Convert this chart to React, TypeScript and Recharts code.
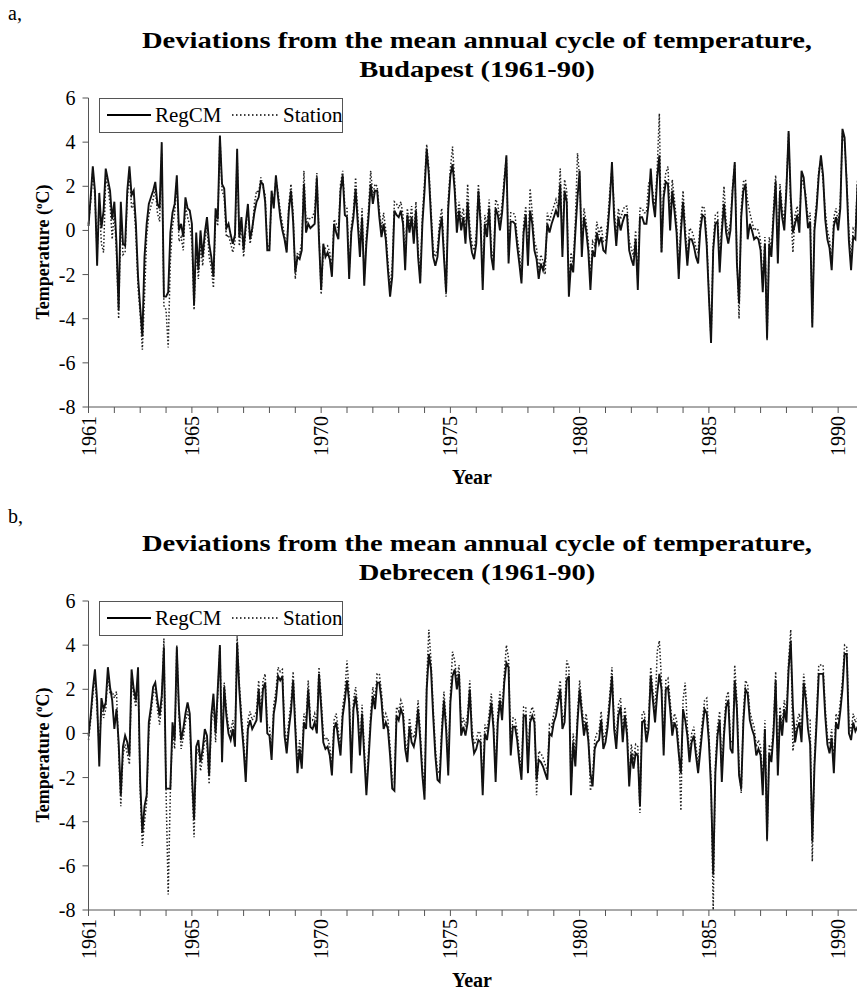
import React from 'react';
import { LineChart, Line, XAxis, YAxis } from 'recharts';

const FONT = 'Liberation Serif, Times New Roman, serif';

const TICK_YEARS = [
  1961, 1962, 1963, 1964, 1965, 1966, 1967, 1968, 1969, 1970,
  1971, 1972, 1973, 1974, 1975, 1976, 1977, 1978, 1979, 1980,
  1981, 1982, 1983, 1984, 1985, 1986, 1987, 1988, 1989, 1990, 1991,
];
const LABEL_YEARS = [1961, 1965, 1970, 1975, 1980, 1985, 1990];
const Y_TICKS = [-8, -6, -4, -2, 0, 2, 4, 6];

// monthly deviations, Jan 1961 .. Dec 1990 (one row per year)
const BUDAPEST_REGCM = [
  0.2, 1.5, 2.9, 1.8, -1.6, 1.7, 0.1, 0.9, 2.8, 2.3, 1.8, 0.5,
  1.3, -0.6, -3.6, 1.3, -0.6, -0.7, 1.8, 2.9, 1.6, 1.8, 0.3, -2.1,
  -3.5, -4.8, -1.2, 0.3, 1.2, 1.5, 1.8, 2.2, 1.2, 1.0, 4.0, -3.0,
  -3.0, -2.8, -0.1, 0.8, 1.2, 2.5, 0.0, 0.3, -0.3, 1.5, 1.0, 0.9,
  0.3, -3.4, -0.1, -1.8, 0.0, -1.2, -0.1, 0.6, -0.6, -1.2, -2.1, 1.0,
  0.5, 4.3, 2.1, 1.9, 0.1, 0.3, -0.2, -0.6, -0.2, 3.7, -0.3, 0.6,
  -0.9, 0.3, 1.2, -0.4, 0.1, 0.8, 1.3, 1.5, 2.2, 2.1, 1.3, -0.9,
  -0.9, 1.8, 1.0, 2.5, 1.5, 0.6, 0.0, -0.4, -1.0, 0.9, 1.8, 0.4,
  -1.9, -1.2, -1.3, -0.9, 2.1, -0.1, 0.3, 0.1, 0.2, 0.3, 2.4, -0.4,
  -2.7, -0.6, -1.2, -1.0, -1.3, -2.1, 0.3, -0.1, -0.4, 1.8, 2.5, 0.7,
  0.6, -2.2, -0.1, 0.6, 1.9, 0.3, -1.2, 0.6, -2.5, -0.6, 0.6, 2.1,
  1.2, 1.8, 1.8, 0.6, -0.3, 0.3, -0.4, -1.8, -3.0, -2.1, 0.9, 0.7,
  0.6, 0.9, 0.3, -1.8, 0.7, -0.1, 0.6, -0.6, 0.9, -1.2, -2.4, 0.3,
  1.8, 3.7, 2.5, 0.6, -1.2, -1.6, -1.2, 0.0, 0.6, -1.2, -2.8, 1.0,
  2.5, 3.0, 1.8, -0.1, 0.9, 0.0, 0.6, -0.6, 1.3, -0.3, -1.0, -1.3,
  -0.6, 1.8, 0.3, -2.7, 0.3, -0.3, 1.0, -1.2, -1.8, 1.0, 0.7, 0.0,
  0.8, 2.1, 3.4, -1.5, 0.4, 0.4, 0.3, -0.7, -1.5, -2.4, -0.1, 0.7,
  -1.6, 0.9, 0.3, -0.9, -1.3, -2.2, -1.5, -1.8, -1.3, 0.3, -0.1, 0.3,
  0.6, 0.9, 0.6, 2.1, -1.2, 1.8, 1.3, -3.0, -1.5, -1.9, -0.1, 1.5,
  2.7, -1.2, 0.6, 0.0, -0.9, -2.7, -0.9, -1.2, -0.1, -0.6, -0.3, -0.9,
  -1.0, 0.0, 1.3, 3.1, 0.6, -0.7, 0.6, 0.0, 0.4, 0.7, 0.7, -0.9,
  -1.3, -1.6, -0.4, -2.7, 0.6, 0.6, 0.3, 0.3, 1.2, 2.8, 1.3, 0.6,
  2.4, 3.4, -1.0, 1.5, 2.2, 2.1, 0.0, 1.8, 0.9, -0.1, -2.2, -0.1,
  1.3, -0.3, -1.6, -0.4, -0.4, -0.7, -1.2, -1.5, 0.0, 0.7, 0.6, -0.7,
  -3.0, -5.1, -0.9, 0.3, 0.4, -1.9, -0.1, 1.2, -0.1, -0.6, 0.0, 1.8,
  3.1, -1.5, -3.3, 0.6, 1.8, 2.1, -0.4, 0.3, 0.0, -0.4, -0.3, -0.4,
  -0.9, -2.8, -0.6, -4.9, -0.6, -1.2, 0.6, 2.2, -1.5, 1.8, 0.6, 0.0,
  1.9, 4.5, 1.5, -0.1, 0.3, 0.7, -0.1, 2.7, 2.4, 1.3, 0.1, 0.4,
  -4.4, 0.0, 1.0, 2.5, 3.4, 2.5, 0.5, -0.4, -0.8, -1.8, 0.2, 0.6,
  0.0, 1.0, 4.6, 4.2, 2.0, -0.5, -1.8, -0.3, -0.4, 2.1, 0.3, 0.5,
];

const BUDAPEST_STATION = [
  0.3, 1.3, 2.7, 1.5, -1.0, 1.2, -0.6, -1.0, 2.4, 2.0, 1.2, -0.4,
  0.9, -1.1, -4.0, 0.8, -1.1, -1.0, 1.4, 2.6, 1.0, 1.3, -0.2, -2.6,
  -3.8, -5.4, -3.0, -0.3, 0.7, 1.1, 1.4, 1.9, 0.8, 0.4, 3.5, -3.4,
  -3.6, -5.3, -1.4, 0.2, 0.8, 2.3, -0.5, -0.3, -0.9, 1.1, 0.6, 0.2,
  -0.5, -3.6, -0.8, -2.2, -0.6, -1.6, -0.5, 0.2, -1.2, -1.7, -2.6, 0.7,
  0.2, 4.3, 1.8, 1.5, -0.3, -0.2, -0.6, -1.0, -0.5, 3.5, -0.7, 0.3,
  -1.2, 0.0, 1.0, -0.6, -0.1, 1.2, 1.8, 1.7, 2.4, 2.0, 1.6, -0.7,
  -0.7, 1.6, 1.3, 2.3, 1.7, 0.9, 0.3, -0.2, -0.9, 1.2, 2.1, 0.8,
  -2.2, -1.0, -1.1, -0.5, 2.7, 0.3, 0.6, 0.5, 0.6, 0.9, 2.6, -0.1,
  -2.9, -0.9, -0.8, -0.7, -1.0, -1.8, 0.5, 0.3, 0.0, 2.1, 2.7, 1.1,
  1.0, -1.9, 0.2, 0.9, 2.4, 0.8, -0.8, 1.0, -2.2, -0.2, 1.0, 2.7,
  1.6, 2.1, 2.0, 0.9, 0.1, 0.8, 0.0, -1.4, -2.6, -1.6, 1.3, 1.2,
  1.0, 1.3, 0.7, -1.4, 1.0, 0.3, 1.1, -0.2, 1.3, -0.8, -2.2, 0.7,
  2.2, 3.9, 2.8, 1.0, -0.8, -1.2, -0.8, 0.4, 1.0, -0.8, -3.0, 1.4,
  2.8, 3.8, 2.2, 0.4, 1.3, 0.5, 1.0, -0.2, 2.1, 0.2, -0.6, -0.9,
  -0.2, 2.1, 0.7, -2.3, 0.7, 0.2, 1.4, -0.8, -1.4, 1.4, 1.2, 0.4,
  1.2, 2.4, 3.3, -1.1, 0.8, 0.8, 0.7, -0.3, -1.0, -2.1, 0.3, 1.1,
  -1.2, 1.9, 0.8, -0.5, -0.8, -1.8, -1.1, -1.4, -2.0, 0.8, 0.4, 0.8,
  1.1, 1.4, 1.0, 2.8, -0.8, 2.3, 1.8, -2.6, -1.0, -1.5, 0.4, 3.5,
  2.4, -0.8, 1.0, 0.4, -0.5, -2.2, -0.5, -0.7, 0.4, -0.2, 0.2, -0.5,
  -0.5, 0.4, 1.8, 2.8, 1.1, -0.3, 1.0, 0.5, 0.9, 1.1, 1.1, -0.5,
  -0.8, -1.2, 0.0, -2.3, 1.0, 1.0, 0.8, 0.8, 2.1, 2.4, 1.7, 1.0,
  2.8, 5.3, -1.0, 1.9, 2.6, 2.9, 0.5, 2.3, 1.4, 0.4, -1.8, 0.4,
  1.8, 0.2, -1.2, 0.1, 0.0, -0.3, -0.8, -1.0, 0.4, 1.1, 1.0, -0.3,
  -2.8, -5.0, -0.6, 0.7, 0.8, -1.4, 0.3, 2.0, 0.4, -0.2, 0.4, 2.0,
  3.0, -1.1, -4.0, 1.0, 2.2, 2.3, 1.3, 0.8, 0.4, 0.0, 0.1, 0.0,
  -0.5, -2.5, -0.3, -5.0, -0.3, -0.8, 1.0, 2.5, -1.1, 2.1, 1.0, 0.4,
  2.1, 4.4, 1.0, -1.0, 0.7, 1.1, 0.3, 2.4, 2.0, 1.6, 0.5, 0.8,
  -4.2, 0.4, 1.3, 2.7, 3.2, 2.2, 0.9, 0.0, -0.4, -1.4, 0.6, 1.0,
  0.4, 1.3, 4.4, 4.0, 2.3, -0.1, -1.4, 0.1, 0.0, 2.3, 0.7, 0.9,
];

const DEBRECEN_REGCM = [
  -0.1, 0.8, 2.0, 2.9, 1.5, -1.5, 1.6, 1.1, 1.4, 3.0, 2.1, 1.5,
  0.2, 1.1, -0.4, -2.8, -0.6, -0.1, -0.4, -1.0, 2.9, 2.0, 1.5, 3.0,
  -2.2, -4.5, -3.3, -2.8, 0.5, 1.2, 2.1, 2.3, 1.5, 0.8, 1.7, 3.9,
  -2.5, -2.5, -2.5, 0.5, -0.3, 3.9, 1.1, -0.3, 0.2, 0.9, 1.4, 0.9,
  -1.8, -3.9, -0.6, -0.3, -1.3, -0.7, 0.2, -0.1, -1.9, 0.8, 1.8, 0.0,
  2.0, 4.0, -1.3, 2.1, 0.8, 0.0, -0.3, 0.2, -0.6, 4.1, 2.0, 0.5,
  -0.7, -2.2, 0.2, 0.6, 0.2, 0.4, 0.6, 2.0, 0.5, 2.0, 2.3, 0.0,
  -0.1, -1.2, 0.9, 1.5, 2.6, 2.4, 2.6, -0.1, -0.9, 0.2, 1.0, 2.4,
  0.2, -1.8, -0.7, -1.6, 0.5, 0.2, 2.0, 0.3, 0.2, 0.5, 0.0, 2.7,
  1.2, -0.4, -0.7, -0.6, -1.0, -1.9, 0.2, 0.5, -0.3, -1.0, 0.8, 1.5,
  2.4, 1.4, -1.8, 1.1, 1.7, 0.8, -1.0, 0.9, -1.0, -2.8, -1.2, 0.5,
  1.7, 1.1, 2.3, 2.3, 1.5, 0.2, 0.5, 0.2, -1.0, -2.5, -2.6, 0.8,
  0.6, 1.1, 0.8, -0.7, -1.3, 0.3, -0.4, -0.6, -0.1, 1.1, -0.3, -1.9,
  -3.0, 2.0, 3.6, 2.9, 0.8, -1.0, -2.1, -2.2, -0.1, 1.5, 0.2, -1.9,
  1.4, 2.6, 2.9, 2.0, 2.7, -0.1, 0.3, -0.1, 0.5, 2.0, -0.1, -0.9,
  -0.7, -0.3, -0.4, -2.8, 0.0, -0.3, 0.5, 1.4, 0.2, -2.2, 0.5, 1.5,
  0.6, 2.3, 3.2, 3.0, -1.0, 0.3, 0.3, -0.3, -1.3, -2.1, 0.8, 0.8,
  -1.8, 0.5, 0.8, 0.5, -2.1, -1.2, -1.3, -1.5, -1.8, -2.1, 0.0, -0.1,
  0.5, 0.8, 1.4, 2.0, 0.2, 0.5, 2.4, 2.6, -2.8, -0.4, -1.5, 0.5,
  2.0, 0.9, -0.1, 0.5, -0.3, -1.8, -2.4, -0.7, -0.4, -0.3, 0.6, -0.7,
  -0.4, 0.3, 1.4, 2.6, 0.2, -0.7, 0.8, 1.2, -0.4, 0.8, -0.1, -2.4,
  -0.9, -1.6, -0.9, -1.0, -3.3, 0.5, 0.6, -0.4, 0.2, 2.6, 1.5, 0.5,
  1.8, 2.7, 2.0, -1.0, 2.0, 2.1, 1.1, -0.1, 0.5, 0.2, -0.9, -1.8,
  1.1, 0.6, -0.1, -1.3, -0.4, -0.1, -1.0, -1.8, -0.8, 0.2, 1.1, 0.9,
  -0.4, -2.5, -6.4, -1.8, -0.1, 0.6, -2.2, -0.1, 1.2, 1.5, -0.7, -0.9,
  2.4, 1.1, -1.9, -2.5, 0.5, 2.0, 1.8, 0.6, 0.2, -0.1, -1.0, -0.7,
  -1.0, -2.8, 0.2, -4.8, -0.9, -1.3, 0.0, 2.4, -1.9, 0.8, -0.1, 1.1,
  0.5, 2.9, 4.2, 1.2, -0.4, 0.2, 0.5, -0.4, 2.3, 1.5, 0.2, -0.5,
  -4.9, -1.5, 0.5, 2.7, 2.7, 2.7, 0.8, -0.5, -0.9, -0.2, -1.8, 0.5,
  0.2, 1.0, 2.0, 3.6, 3.6, 0.0, -0.3, 0.5, 0.1, 0.3, 0.5, 1.6,
];

const DEBRECEN_STATION = [
  -0.3, 0.6, 1.7, 2.6, 1.0, -0.6, 1.2, 0.7, 1.1, 2.7, 1.8, 1.9,
  1.6, 1.9, -0.8, -3.3, -1.0, -0.5, -0.9, -1.4, 2.5, 1.7, 1.2, 2.6,
  -2.6, -5.1, -4.0, -3.1, 0.1, 0.9, 1.8, 2.0, 1.1, 0.4, 1.3, 4.3,
  -2.6, -7.3, -2.6, 0.1, -0.7, 4.0, 0.8, -0.7, -0.2, 0.5, 1.0, 0.5,
  -2.2, -4.7, -1.0, -0.7, -1.7, -1.1, -0.2, -0.5, -2.3, 0.4, 1.4, -0.4,
  1.7, 4.0, -0.8, 2.3, 1.1, 0.3, 0.1, 0.6, -0.2, 4.4, 2.3, 0.9,
  -0.3, -1.8, 0.6, 1.0, 0.6, 0.8, 1.0, 2.4, 0.9, 2.4, 2.7, 0.4,
  0.3, -0.8, 1.3, 1.9, 3.0, 2.8, 2.9, 0.3, -0.5, 0.6, 1.4, 2.8,
  0.6, -1.4, -0.3, -1.2, 0.9, 0.6, 2.4, 0.7, 0.6, 0.9, 0.4, 3.0,
  1.6, 0.0, -0.3, -0.2, -0.6, -1.5, 0.6, 0.9, 0.1, -0.6, 1.2, 1.9,
  3.3, 1.8, -1.4, 1.5, 2.1, 1.2, -0.6, 1.3, -0.6, -2.4, -0.8, 0.9,
  2.1, 1.5, 2.7, 2.7, 1.9, 0.6, 0.9, 0.6, -0.6, -2.1, -2.2, 1.2,
  1.0, 1.5, 1.2, -0.3, -0.9, 0.7, 0.0, -0.2, 0.3, 1.5, 0.1, -1.5,
  -2.6, 2.4, 4.7, 3.3, 1.2, -0.6, -1.7, -1.8, 0.3, 1.9, 0.6, -1.5,
  1.8, 3.7, 3.3, 2.4, 3.1, 0.3, 0.7, 0.3, 0.9, 2.4, 0.3, -0.5,
  -0.3, 0.1, 0.0, -2.4, 0.4, 0.1, 0.9, 1.8, 0.6, -1.8, 0.9, 1.9,
  1.0, 2.7, 4.0, 3.4, -0.6, 0.7, 0.7, 0.1, -0.9, -1.7, 1.2, 1.2,
  -1.4, 0.9, 1.2, 0.9, -2.8, -0.8, -0.9, -1.1, -1.4, -1.7, 0.4, 0.3,
  0.9, 1.2, 1.8, 2.4, 0.6, 0.9, 3.3, 3.0, -2.4, 0.0, -1.1, 0.9,
  2.4, 1.3, 0.3, 0.9, 0.1, -2.6, -2.0, -0.3, 0.0, 0.1, 1.0, -0.3,
  0.0, 0.7, 1.8, 3.0, 0.6, -0.3, 1.3, 1.6, 0.0, 1.2, 0.3, -2.0,
  -0.5, -1.2, -0.5, -0.6, -3.6, 0.9, 1.0, 0.0, 0.6, 3.0, 1.9, 0.9,
  3.7, 4.2, 2.4, -0.6, 2.4, 2.5, 1.5, 0.3, 0.9, 0.6, -0.5, -3.5,
  1.5, 2.3, 0.3, -0.9, 0.0, 0.3, -0.6, -1.4, -0.4, 0.6, 1.5, 1.6,
  0.0, -2.1, -8.0, -1.4, 0.3, 1.0, -1.8, 0.3, 1.6, 1.9, -0.3, -0.5,
  3.1, 1.5, -1.5, -2.7, 0.9, 2.4, 2.2, 1.0, 0.6, 0.3, -0.6, -0.3,
  -0.6, -2.4, 0.6, -4.9, -0.5, -0.9, 0.4, 2.8, -1.5, 1.2, 0.3, 1.5,
  0.9, 3.3, 4.7, -0.8, 0.0, 0.6, 0.9, 0.0, 2.7, 1.9, 0.6, 0.6,
  -5.8, -1.1, 0.9, 3.1, 3.1, 3.1, 1.2, -0.1, -0.5, 0.2, -1.4, 0.9,
  0.6, 1.4, 2.4, 4.0, 3.9, 0.4, 0.1, 0.9, 0.5, 0.7, 0.9, 2.0,
];

const buildRows = (regcm: number[], station: number[]) =>
  regcm.map((v, i) => ({ t: 1961 + i / 12, regcm: v, station: station[i] }));

const budapestRows = buildRows(BUDAPEST_REGCM, BUDAPEST_STATION);
const debrecenRows = buildRows(DEBRECEN_REGCM, DEBRECEN_STATION);

const AXIS = '#555';

function YearTick(props: any) {
  const { x, y, payload } = props;
  if (!LABEL_YEARS.includes(payload.value)) return <g />;
  return (
    <text
      x={x}
      y={y + 1}
      transform={`rotate(-90, ${x}, ${y + 1})`}
      textAnchor="end"
      dy="0.35em"
      fontSize={20}
      style={{ fontFamily: FONT }}
      fill="#000"
    >
      {payload.value}
    </text>
  );
}

function ValueTick(props: any) {
  const { x, y, payload } = props;
  return (
    <text x={x} y={y} textAnchor="end" dy="0.35em" fontSize={20} style={{ fontFamily: FONT }} fill="#000">
      {payload.value}
    </text>
  );
}

function LegendBox() {
  return (
    <div
      style={{
        position: 'absolute', left: 99, top: 98, width: 244, height: 35,
        boxSizing: 'border-box', border: `1px solid ${AXIS}`, background: '#fff',
      }}
    >
      <svg width={244} height={35} style={{ position: 'absolute', left: -1, top: -1 }}>
        <line x1={8} x2={52} y1={17} y2={17} stroke="#000" strokeWidth={2} />
        <text x={56} y={24} fontSize={21} style={{ fontFamily: FONT }}>RegCM</text>
        <line x1={133} x2={180} y1={17} y2={17} stroke="#000" strokeWidth={1.4} strokeDasharray="1.5 2.5" />
        <text x={184} y={24} fontSize={21} style={{ fontFamily: FONT }}>Station</text>
      </svg>
    </div>
  );
}

function Panel({ top, letter, city, rows }: { top: number; letter: string; city: string; rows: any[] }) {
  return (
    <div style={{ position: 'absolute', left: 0, top, width: 900, height: 500 }}>
      <LineChart width={900} height={480} data={rows} margin={{ top: 98, right: 36, bottom: 13, left: 48.5 }}>
        <XAxis
          type="number"
          dataKey="t"
          domain={[1961, 1991]}
          ticks={TICK_YEARS}
          interval={0}
          height={60}
          tick={<YearTick />}
          tickSize={6}
          tickMargin={2}
          axisLine={{ stroke: AXIS }}
          tickLine={{ stroke: AXIS }}
        />
        <YAxis
          type="number"
          domain={[-8, 6]}
          ticks={Y_TICKS}
          interval={0}
          width={40}
          tickSize={6}
          tickMargin={7}
          tick={<ValueTick />}
          axisLine={{ stroke: AXIS }}
          tickLine={{ stroke: AXIS }}
        />
        <Line
          type="linear"
          dataKey="station"
          stroke="#222"
          strokeWidth={1.5}
          strokeDasharray="1.5 2"
          dot={false}
          isAnimationActive={false}
        />
        <Line
          type="linear"
          dataKey="regcm"
          stroke="#111"
          strokeWidth={1.9}
          dot={false}
          isAnimationActive={false}
        />
      </LineChart>
      <div style={{ position: 'absolute', left: 8, top: 2, fontSize: 20 }}>{letter}</div>
      <div
        style={{
          position: 'absolute', left: 77, top: 26, width: 800, textAlign: 'center',
          fontWeight: 'bold', fontSize: 24, lineHeight: '29px',
          transform: 'scaleX(1.19)', transformOrigin: '400px 0',
        }}
      >
        Deviations from the mean annual cycle of temperature,
        <br />
        {city} (1961-90)
      </div>
      <LegendBox />
      <div
        style={{
          position: 'absolute', left: 38 - 100, top: 252 - 12, width: 200, height: 24,
          lineHeight: '24px', textAlign: 'center', fontWeight: 'bold', fontSize: 18,
          transform: 'rotate(-90deg)', whiteSpace: 'nowrap',
        }}
      >
        Temperature (<sup style={{ fontSize: 11 }}>o</sup>C)
      </div>
      <div
        style={{
          position: 'absolute', left: 472 - 50, top: 466, width: 100, textAlign: 'center',
          fontWeight: 'bold', fontSize: 20,
        }}
      >
        Year
      </div>
    </div>
  );
}

export default function App() {
  return (
    <div
      style={{
        position: 'absolute', left: 0, top: 0, width: 857, height: 992, overflow: 'hidden',
        background: '#fff', fontFamily: FONT, color: '#000',
      }}
    >
      <Panel top={0} letter="a," city="Budapest" rows={budapestRows} />
      <Panel top={503} letter="b," city="Debrecen" rows={debrecenRows} />
    </div>
  );
}
